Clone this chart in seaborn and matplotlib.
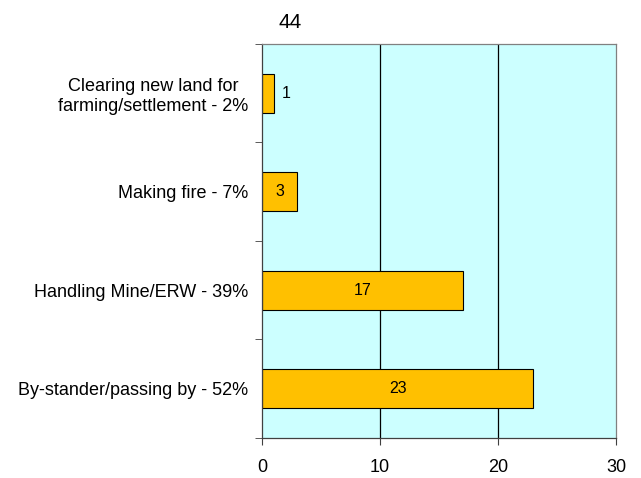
import matplotlib
matplotlib.use('Agg')
import matplotlib.pyplot as plt
import seaborn as sns
import pandas as pd

categories = ['Clearing new land for\nfarming/settlement - 2%',
              'Making fire - 7%',
              'Handling Mine/ERW - 39%',
              'By-stander/passing by - 52%']
counts = [1, 3, 17, 23]
total_title = '44'

df = pd.DataFrame({'cause': categories, 'count': counts})

sns.set_style('white')
plt.rcParams['font.family'] = ['Liberation Sans', 'DejaVu Sans']
plt.rcParams['xtick.bottom'] = True
plt.rcParams['ytick.left'] = True
plt.rcParams['text.color'] = 'black'
plt.rcParams['xtick.labelcolor'] = 'black'
plt.rcParams['ytick.labelcolor'] = 'black'

fig = plt.figure(figsize=(6.41, 4.78), dpi=100)
ax = fig.add_axes([0.4087, 0.0837, 0.5523, 0.8243])
ax.set_facecolor('#CCFFFF')

sns.barplot(data=df, x='count', y='cause', orient='h', color='#FFC000',
            saturation=1, width=0.4, edgecolor='black', linewidth=0.8, ax=ax)

ax.set_xlim(0, 30)
ax.set_ylim(3.5, -0.5)
ax.set_xticks([0, 10, 20, 30])
for x in [10, 20]:
    ax.axvline(x, color='black', linewidth=0.9, zorder=0.5)

# value labels
for i, v in enumerate(counts):
    if v < 2:
        ax.text(v + 0.7, i, str(v), ha='left', va='center', fontsize=11.5, color='black')
    else:
        ax.text(v / 2, i, str(v), ha='center', va='center', fontsize=11.5, color='black')

ax.set_xlabel('')
ax.set_ylabel('')
ax.tick_params(axis='y', which='major', length=0, labelsize=13, pad=10, labelcolor='black')
for lab in ax.get_yticklabels():
    lab.set_multialignment('center')
ax.set_yticks([-0.5, 0.5, 1.5, 2.5, 3.5], minor=True)
ax.tick_params(axis='y', which='minor', left=True, length=5, direction='out',
               color='#404040')
ax.tick_params(axis='x', length=5, direction='out', color='#404040',
               labelsize=13, pad=10, labelcolor='black')

for s in ['top', 'right']:
    ax.spines[s].set_color('#808080')
ax.spines['left'].set_color('#404040')
ax.spines['bottom'].set_color('#404040')
for s in ax.spines.values():
    s.set_linewidth(0.9)

fig.text(290 / 641, 1 - 22 / 478, total_title, ha='center', va='center',
         fontsize=15, color='black')

fig.savefig('out.png', dpi=100)
